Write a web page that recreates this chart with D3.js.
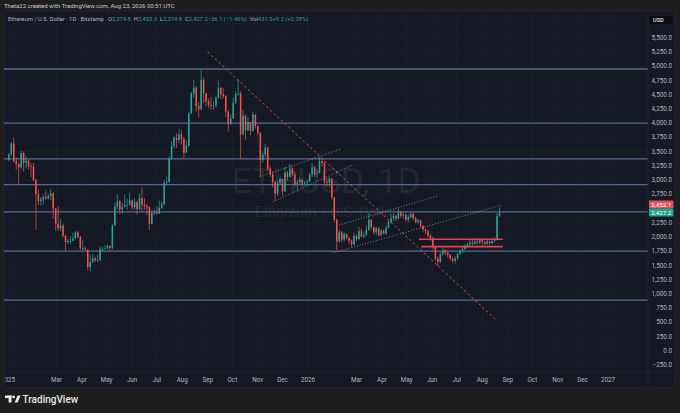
<!DOCTYPE html>
<html><head><meta charset="utf-8">
<script src="https://cdn.jsdelivr.net/npm/d3@7/dist/d3.min.js"></script>
<style>html,body{margin:0;padding:0;background:#1e1e1e;}svg{display:block;}</style>
</head><body>
<svg id="c" width="680" height="413"></svg>
<script>
// ---------------- DATA ----------------
const firstCandleDate = "2025-01-02";   // candles every 3 days
const stepDays = 3;
const firstOpen = 3350;
const closes = [3450,3640,3330,3280,3220,3470,3300,3340,3240,3230,
3000,2750,2630,2660,2700,2680,2720,2760,2500,2230,
2150,2200,2020,1910,1930,1930,1970,2080,2000,1800,
1800,1780,1470,1560,1620,1590,1590,1790,1790,1800,
1840,1810,2200,2530,2630,2480,2530,2560,2560,2640,
2520,2610,2490,2680,2560,2540,2520,2230,2420,2430,
2410,2510,2570,2950,2960,3370,3600,3740,3700,3800,
3720,3480,3600,4170,4520,4620,4300,4240,4760,4520,
4380,4320,4300,4310,4450,4620,4500,4470,4200,3980,
4080,4360,4510,4520,3800,4130,3870,4020,3860,4150,
3950,3830,3350,3450,3570,3200,3100,2960,2760,2940,
3020,2800,3130,3050,3200,3100,2930,2960,3000,2940,
2950,2970,3090,3220,3100,3120,3330,3300,2960,2950,
3020,2700,2300,1920,2080,1950,2050,1980,1930,1870,
2020,1960,2100,2010,2030,2120,2300,2170,2080,2150,
2030,2110,2060,2160,2260,2330,2370,2320,2430,2370,
2390,2300,2350,2400,2330,2260,2290,2190,2130,2100,
2020,1980,1820,1620,1560,1700,1760,1720,1680,1620,
1580,1620,1700,1760,1790,1840,1870,1900,1880,1920,
1900,1940,1910,1880,1920,1890,1930,1950,2370,2427.2];
const highs = [3480,3670,3740,3400,3300,3520,3500,3420,3360,3300,
3300,3020,2830,2700,2740,2810,2760,2840,2790,2500,
2540,2320,2230,2040,1960,2010,2070,2100,2110,2020,
1950,1830,1780,1690,1690,1650,1680,1830,1830,1860,
1870,1850,2230,2600,2740,2650,2600,2740,2670,2780,
2660,2680,2640,2760,2870,2680,2580,2540,2470,2480,
2530,2640,2620,3000,3060,3420,3680,3780,3820,3900,
3880,3760,3700,4200,4550,4760,4650,4370,4930,4800,
4520,4430,4460,4380,4480,4750,4630,4620,4490,4220,
4150,4450,4560,4760,4560,4230,4150,4100,4020,4200,
4150,3950,3830,3500,3630,3580,3240,3150,2990,2990,
3060,3020,3230,3160,3280,3230,3150,3010,3050,3020,
2990,3020,3120,3300,3240,3180,3400,3380,3320,3020,
3060,3040,2700,2320,2130,2100,2080,2060,2000,1960,
2080,2040,2180,2150,2090,2200,2420,2310,2180,2180,
2170,2140,2130,2200,2310,2400,2410,2390,2500,2460,
2440,2420,2390,2440,2430,2360,2320,2300,2210,2150,
2120,2060,2000,1830,1660,1730,1810,1790,1760,1700,
1650,1660,1720,1780,1830,1880,1900,1940,1960,1980,
1950,1970,1960,1930,1950,1940,1960,1990,2420,2520];
const lows = [3330,3430,3310,3180,2920,3200,3150,3200,3180,3050,
2980,2120,2560,2550,2570,2650,2660,2650,2320,2100,
2100,2100,1990,1760,1870,1880,1940,1960,1980,1770,
1760,1760,1410,1390,1540,1560,1560,1580,1740,1780,
1780,1760,1780,2200,2480,2400,2400,2510,2480,2550,
2480,2480,2390,2470,2450,2480,2390,2120,2220,2380,
2390,2480,2490,2560,2930,2960,3350,3550,3560,3650,
3620,3380,3550,3580,4170,4450,4200,4090,4220,4350,
4300,4260,4240,4230,4270,4430,4420,4430,4100,3850,
3970,4100,4330,4480,3370,3780,3700,3860,3780,3850,
3900,3780,3060,3300,3400,3150,3050,2870,2640,2720,
2920,2720,2790,2990,3050,3070,2880,2800,2930,2900,
2900,2900,2960,3050,3060,3050,3120,3240,2900,2880,
2880,2650,2250,1770,1900,1900,1920,1950,1870,1820,
1850,1920,1950,1990,1980,2020,2110,2130,2040,2030,
2000,2010,2040,2030,2150,2230,2280,2280,2300,2330,
2310,2270,2260,2320,2300,2240,2230,2160,2080,2050,
2000,1930,1780,1580,1480,1540,1670,1680,1630,1580,
1540,1530,1600,1680,1720,1770,1800,1840,1850,1860,
1860,1870,1860,1850,1860,1860,1870,1900,1940,2350];

const priceTicks = [5500,5250,5000,4750,4500,4250,4000,3750,3500,3250,3000,2750,2250,2000,1750,1500,1250,1000,750,500,250,0,-250];
const gridPrices = [5750,5500,5250,5000,4750,4500,4250,4000,3750,3500,3250,3000,2750,2500,2250,2000,1750,1500,1250,1000,750,500,250,0,-250];
const timeTickDates = ["2025-01-01","2025-03-01","2025-04-01","2025-05-01","2025-06-01","2025-07-01","2025-08-01","2025-09-01","2025-10-01","2025-11-01","2025-12-01","2026-01-01","2026-03-01","2026-04-01","2026-05-01","2026-06-01","2026-07-01","2026-08-01","2026-09-01","2026-10-01","2026-11-01","2026-12-01","2027-01-01"];
const timeTickLabels = ["2025","Mar","Apr","May","Jun","Jul","Aug","Sep","Oct","Nov","Dec","2026","Mar","Apr","May","Jun","Jul","Aug","Sep","Oct","Nov","Dec","2027"];
const levelPrices = [4950,4000,3370,2920,2440,1750,890];
const trendDashed = [["2025-09-01",5250],["2026-08-18",540]];
const channel1 = [[["2025-11-03",3053],["2026-02-10",3545]],[["2025-11-19",2613],["2026-02-24",3264]]];
const channel2 = [[["2026-02-08",2209],["2026-06-08",2719]],[["2026-01-31",1717],["2026-08-25",2561]]];
const redLevels = [[["2026-05-16",1958],["2026-08-26",1958]],[["2026-05-19",1828],["2026-08-26",1828]]];
const lastClose = 2427.2, otherLabel = 2452.1;
const headerText = "Theta22 created with TradingView.com, Aug 23, 2026 00:51 UTC";
const legendTitle = "Ethereum / U.S. Dollar · 1D · Bitstamp";
const legendParts = [["O","2,374.8"],["H","2,453.3"],["L","2,374.8"],["C","2,427.2"],["","−36.1 (−1.46%)"],["Vol","431.5"],["","+9.2 (+0.38%)"]];

// ---------------- LAYOUT ----------------
const svg = d3.select("#c");
const F = "Roboto, 'Noto Sans', sans-serif";
const UP = "#26a69a", DN = "#ef5350";
const P = {x0:4, x1:648, y0:11, y1:372, right:675, bottom:388};
const parse = d3.utcParse("%Y-%m-%d");
const x = d3.scaleUtc().domain([parse("2025-01-01"), parse("2027-01-01")]).range([8, 608]);
const y = d3.scaleLinear().domain([0, 5500]).range([350.7, 37.7]);

svg.append("rect").attr("width",680).attr("height",413).attr("fill","#1e1e1e");
svg.append("rect").attr("x",P.x0).attr("y",P.y0).attr("width",P.right-P.x0).attr("height",P.bottom-P.y0)
  .attr("rx",2).attr("fill","#151924").attr("stroke","#262a35").attr("stroke-width",0.8);

svg.append("defs").append("clipPath").attr("id","plot").append("rect")
  .attr("x",P.x0).attr("y",P.y0).attr("width",P.x1-P.x0).attr("height",P.y1-P.y0);
svg.select("defs").append("clipPath").attr("id","taxis").append("rect")
  .attr("x",5.5).attr("y",P.y1).attr("width",P.x1-5.5).attr("height",P.bottom-P.y1);

const plot = svg.append("g").attr("clip-path","url(#plot)");
// grid
plot.selectAll(".hg").data(gridPrices).join("line")
  .attr("x1",P.x0).attr("x2",P.x1).attr("y1",d=>y(d)).attr("y2",d=>y(d))
  .attr("stroke","#1d2130").attr("stroke-width",0.8);
plot.selectAll(".vg").data(timeTickDates).join("line")
  .attr("x1",d=>x(parse(d))).attr("x2",d=>x(parse(d))).attr("y1",P.y0).attr("y2",P.y1)
  .attr("stroke","#1d2130").attr("stroke-width",0.8);

// watermark
plot.append("text").attr("x",326).attr("y",193).attr("text-anchor","middle")
  .attr("font-family",F).attr("font-size",35).attr("fill","rgba(255,255,255,0.075)").text("ETHUSD, 1D");
plot.append("text").attr("x",326).attr("y",217).attr("text-anchor","middle")
  .attr("font-family",F).attr("font-size",14.5).attr("fill","rgba(255,255,255,0.075)").text("Ethereum / U.S. Dollar");

// horizontal level lines
plot.selectAll(".lvl").data(levelPrices).join("line")
  .attr("x1",P.x0).attr("x2",P.x1).attr("y1",d=>y(d)).attr("y2",d=>y(d))
  .attr("stroke","#5a6894").attr("stroke-width",1.3);

// candles
const candles = closes.map((c,i)=>{
  const d = d3.utcDay.offset(parse(firstCandleDate), i*stepDays);
  const o = i===0 ? firstOpen : closes[i-1];
  return {d, o, c, h:highs[i], l:lows[i]};
});
const bw = 1.5;
const cg = plot.append("g");
cg.selectAll(".wick").data(candles).join("line")
  .attr("x1",d=>x(d.d)).attr("x2",d=>x(d.d))
  .attr("y1",d=>y(Math.max(d.h,d.o,d.c))).attr("y2",d=>y(Math.min(d.l,d.o,d.c)))
  .attr("stroke",d=>d.c>=d.o?UP:DN).attr("stroke-width",0.7);
cg.selectAll(".body").data(candles).join("rect")
  .attr("x",d=>x(d.d)-bw/2).attr("width",bw)
  .attr("y",d=>y(Math.max(d.o,d.c))).attr("height",d=>Math.max(0.7,Math.abs(y(d.o)-y(d.c))))
  .attr("fill",d=>d.c>=d.o?UP:DN);

// drawings
const pt = p => [x(parse(p[0])), y(p[1])];
const seg = (g, s, stroke, dash, w) => {
  const a = pt(s[0]), b = pt(s[1]);
  g.append("line").attr("x1",a[0]).attr("y1",a[1]).attr("x2",b[0]).attr("y2",b[1])
   .attr("stroke",stroke).attr("stroke-width",w).attr("stroke-dasharray",dash);
};
seg(plot, trendDashed, "#c9505b", "2.5,2.5", 1);
channel1.forEach(s=>seg(plot, s, "rgba(210,212,220,0.7)", "1,1.8", 0.8));
channel2.forEach(s=>seg(plot, s, "rgba(210,212,220,0.7)", "1,1.8", 0.8));
redLevels.forEach(s=>seg(plot, s, "#e5434f", null, 1.6));

// separators
svg.append("line").attr("x1",P.x1).attr("x2",P.x1).attr("y1",P.y0).attr("y2",P.bottom).attr("stroke","#222632").attr("stroke-width",0.8);
svg.append("line").attr("x1",P.x0).attr("x2",P.right).attr("y1",P.y1).attr("y2",P.y1).attr("stroke","#1f2330").attr("stroke-width",0.8);

// price axis
const fmt = d3.format(",.1f");
svg.selectAll(".pl").data(priceTicks).join("text")
  .attr("x",672).attr("y",d=>y(d)).attr("dy","0.35em").attr("text-anchor","end")
  .attr("font-family",F).attr("font-size",6.3).attr("fill","#b2b5be").text(d=>fmt(d));

// price labels
const tag = (yy, fill, txt) => {
  svg.append("rect").attr("x",649).attr("y",yy-4).attr("width",24.5).attr("height",8).attr("rx",1).attr("fill",fill);
  svg.append("text").attr("x",661.2).attr("y",yy).attr("dy","0.35em").attr("text-anchor","middle")
    .attr("font-family",F).attr("font-size",6.2).attr("fill","#ffffff").text(txt);
};
tag(y(lastClose)-8, "#e0555c", fmt(otherLabel));
tag(y(lastClose), "#22a18d", fmt(lastClose));

// USD box
svg.append("rect").attr("x",649).attr("y",15.5).attr("width",24).attr("height",9.5).attr("rx",1.5).attr("fill","#0b0d12").attr("stroke","#2a2e39").attr("stroke-width",0.5);
svg.append("text").attr("x",653).attr("y",20.3).attr("dy","0.35em").attr("font-family",F).attr("font-size",5.6).attr("font-weight",500).attr("fill","#e6e6e6").text("USD");

// time axis
svg.append("g").attr("clip-path","url(#taxis)").selectAll("text").data(timeTickDates).join("text")
  .attr("x",d=>x(parse(d))).attr("y",379.5).attr("dy","0.35em").attr("text-anchor","middle")
  .attr("font-family",F).attr("font-size",6.3).attr("fill","#b2b5be").text((d,i)=>timeTickLabels[i]);

// header
svg.append("text").attr("x",4).attr("y",6).attr("dy","0.35em").attr("font-family",F).attr("font-size",6)
  .attr("fill","#c9c9c9").text(headerText);
const lg = svg.append("text").attr("x",8).attr("y",18.5).attr("dy","0.35em").attr("font-family",F).attr("font-size",5.8).attr("fill","#b2b5be");
lg.append("tspan").text(legendTitle);
legendParts.forEach((p,i)=>{
  lg.append("tspan").attr("dx", i===0?4:3).attr("fill","#b2b5be").text(p[0]);
  lg.append("tspan").attr("fill","#22a18d").text(p[1]);
});

// footer logo
const lgG = svg.append("g").attr("fill","#e9e9e9");
lgG.append("rect").attr("x",5).attr("y",395.5).attr("width",6.5).attr("height",2.6);
lgG.append("rect").attr("x",8.6).attr("y",395.5).attr("width",2.9).attr("height",7);
lgG.append("circle").attr("cx",13.6).attr("cy",396.9).attr("r",1.4);
lgG.append("path").attr("d","M14.6,402.5 L17.6,395.5 L20.6,395.5 L17.6,402.5 Z");
svg.append("text").attr("x",22.5).attr("y",402.5).attr("font-family",F).attr("font-size",10).attr("font-weight",500)
  .attr("fill","#e9e9e9").text("TradingView");
</script>
</body></html>
